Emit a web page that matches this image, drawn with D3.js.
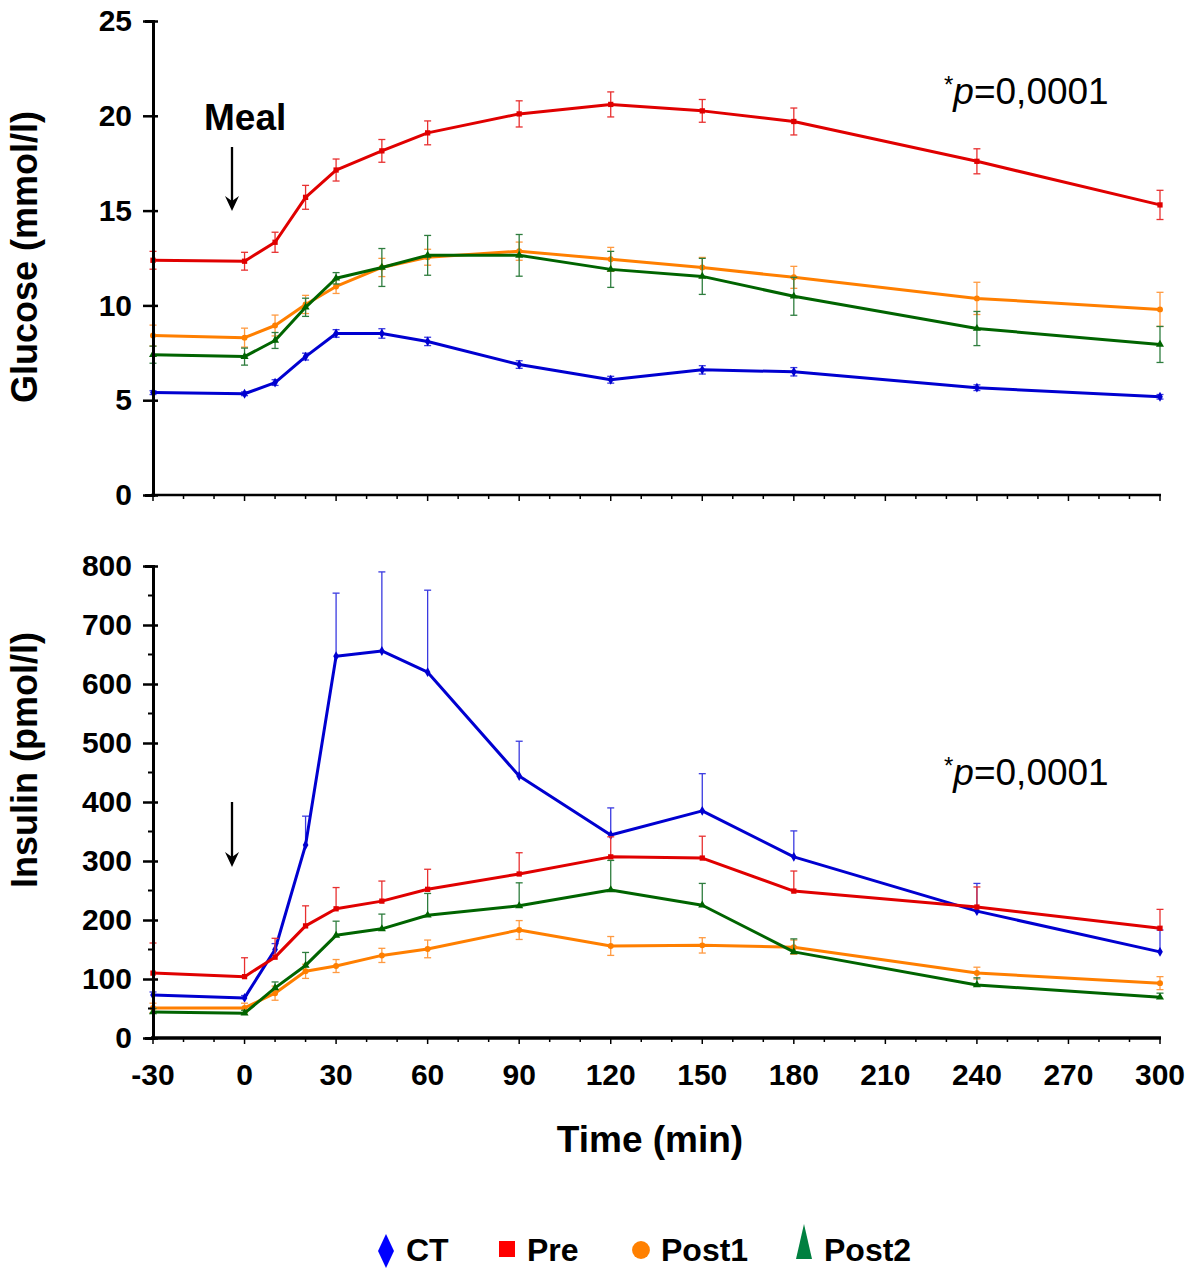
<!DOCTYPE html>
<html>
<head>
<meta charset="utf-8">
<script src="https://cdn.jsdelivr.net/npm/d3@7"></script>
<style>
  body { margin: 0; background: #fff; }
  svg { font-family: "Liberation Sans", Arial, sans-serif; }
</style>
</head>
<body>
<div class="graph"></div>
<script>
// time points (min)
const times = [-30, 0, 10, 20, 30, 45, 60, 90, 120, 150, 180, 240, 300];
const groups = ['CT', 'Pre', 'Post1', 'Post2'];

// glucose (mmol/l) means and SE
const gluCT    = [5.4, 5.34, 5.93, 7.3, 8.52, 8.52, 8.1, 6.88, 6.08, 6.6, 6.5, 5.66, 5.18];
const gluPre   = [12.38, 12.33, 13.33, 15.7, 17.14, 18.15, 19.1, 20.1, 20.6, 20.26, 19.7, 17.6, 15.3];
const gluPost1 = [8.41, 8.3, 8.94, 10.05, 11.0, 12.0, 12.54, 12.86, 12.43, 12.0, 11.48, 10.37, 9.79];
const gluPost2 = [7.4, 7.3, 8.15, 9.9, 11.43, 12.0, 12.64, 12.64, 11.9, 11.53, 10.48, 8.78, 7.94];
const gluErrCT    = [0.1, 0.1, 0.15, 0.18, 0.2, 0.25, 0.22, 0.2, 0.18, 0.22, 0.22, 0.15, 0.12];
const gluErrPre   = [0.47, 0.47, 0.53, 0.63, 0.58, 0.6, 0.63, 0.69, 0.66, 0.6, 0.71, 0.66, 0.77];
const gluErrPost1 = [0.55, 0.5, 0.55, 0.48, 0.37, 0.48, 0.42, 0.48, 0.63, 0.53, 0.58, 0.85, 0.9];
const gluErrPost2 = [0.45, 0.45, 0.42, 0.48, 0.3, 1.0, 1.05, 1.1, 0.95, 0.95, 1.0, 0.9, 0.95];

// insulin (pmol/l) means and SE
const insCT    = [73, 68, 150, 327, 647, 656, 620, 444, 344, 385, 307, 215, 146];
const insPre   = [110, 104, 137, 190, 219, 232, 252, 278, 307, 305, 249, 222, 186];
const insPost1 = [51, 51, 76, 113, 122, 140, 151, 183, 156, 157, 154, 110, 93];
const insPost2 = [44, 42, 85, 123, 174, 185, 208, 224, 251, 225, 146, 90, 69];
const insErrCT    = [5, 4, 10, 49, 107, 134, 139, 59, 46, 63, 44, 47, 37];
const insErrPre   = [51, 32, 32, 34, 36, 34, 34, 36, 34, 37, 34, 34, 32];
const insErrPost1 = [8, 8, 12, 12, 11, 12, 15, 16, 16, 13, 12, 10, 11];
const insErrPost2 = [6, 5, 10, 22, 24, 25, 37, 39, 50, 37, 22, 12, 7];

const xTicks = [-30, 0, 30, 60, 90, 120, 150, 180, 210, 240, 270, 300];
const gluTicks = [0, 5, 10, 15, 20, 25];
const insTicks = [0, 100, 200, 300, 400, 500, 600, 700, 800];

const lineColors = ['#0000d0', '#e00000', '#ff7f00', '#006400'];
const errColors  = ['#3a3ae0', '#e83030', '#ff9a40', '#2e7d3e'];
const legendColors = ['#0000ff', '#ff0000', '#ff8000', '#008040'];
const shapes = [d3.symbolDiamond, d3.symbolSquare, d3.symbolCircle, d3.symbolTriangle];

const svg = d3.select('.graph').append('svg').attr('width', 1201).attr('height', 1268);

const xScale = d3.scaleLinear().domain([-30, 300]).range([153, 1160]);

const drawPanel = (cfg) => {
    const y = d3.scaleLinear().domain(cfg.domain).range(cfg.range);
    const g = svg.append('g');

    // series
    cfg.series.forEach((vals, i) => {
        const errs = cfg.errors[i];
        const both = cfg.bothSides[i];
        const eb = g.append('g').attr('stroke', errColors[i]).attr('stroke-width', 1.3);
        times.forEach((t, j) => {
            const x = xScale(t);
            const top = y(vals[j] + errs[j]);
            const bot = both ? y(vals[j] - errs[j]) : y(vals[j]);
            eb.append('line').attr('x1', x).attr('x2', x).attr('y1', top).attr('y2', bot);
            eb.append('line').attr('x1', x - 3.5).attr('x2', x + 3.5).attr('y1', top).attr('y2', top);
            if (both) eb.append('line').attr('x1', x - 3.5).attr('x2', x + 3.5).attr('y1', bot).attr('y2', bot);
        });
        const line = d3.line().x((d, j) => xScale(times[j])).y(d => y(d));
        g.append('path').datum(vals).attr('d', line)
            .attr('fill', 'none').attr('stroke', lineColors[i]).attr('stroke-width', 3)
            .attr('stroke-linejoin', 'round');
        g.append('g').selectAll('path').data(vals).join('path')
            .attr('transform', (d, j) => `translate(${xScale(times[j])},${y(d)})`)
            .attr('d', d3.symbol().type(shapes[i]).size(28))
            .attr('fill', lineColors[i]);
    });

    // y axis
    const yAxis = d3.axisLeft(y).tickValues(cfg.ticks).tickSize(8).tickSizeInner(0).tickPadding(21);
    const ya = g.append('g').attr('transform', `translate(153,0)`).call(yAxis);
    ya.select('.domain').attr('stroke', '#000').attr('stroke-width', 3);
    ya.selectAll('text').attr('font-size', 30).attr('font-weight', 'bold').attr('fill', '#000');
    ya.selectAll('.tick').append('line').attr('x1', -10).attr('x2', 5).attr('stroke', '#000').attr('stroke-width', 2.5);
    if (cfg.minor) {
        ya.selectAll('.minor').data(cfg.minor).join('line').attr('class', 'minor')
            .attr('x1', -5).attr('x2', 0).attr('y1', d => y(d)).attr('y2', d => y(d))
            .attr('stroke', '#000').attr('stroke-width', 2);
    }

    // x axis
    const y0 = y(0);
    g.append('line').attr('x1', 151).attr('x2', 1161).attr('y1', y0).attr('y2', y0)
        .attr('stroke', '#000').attr('stroke-width', cfg.xw);
    const minorX = d3.range(-30, 301, 10);
    g.append('g').selectAll('line').data(minorX).join('line')
        .attr('x1', d => xScale(d)).attr('x2', d => xScale(d))
        .attr('y1', y0).attr('y2', d => y0 + (d % 30 === 0 ? 6 : 4))
        .attr('stroke', '#000').attr('stroke-width', 1.5);
    if (cfg.xLabels) {
        g.append('g').selectAll('text').data(xTicks).join('text')
            .attr('x', d => xScale(d)).attr('y', y0 + 47)
            .attr('text-anchor', 'middle').attr('font-size', 30).attr('font-weight', 'bold')
            .text(d => d);
    }

    // y label
    g.append('text').attr('transform', `translate(37,${cfg.labelY}) rotate(-90)`)
        .attr('text-anchor', 'middle').attr('font-size', 36).attr('font-weight', 'bold')
        .text(cfg.label);

    // p value
    const pt = g.append('text').attr('x', 944).attr('y', cfg.pY).attr('font-size', 37);
    pt.append('tspan').attr('font-size', 24).attr('dy', -11).text('*');
    pt.append('tspan').attr('font-style', 'italic').attr('dy', 11).text('p');
    pt.append('tspan').text('=0,0001');

    // meal arrow
    const ax = 232;
    g.append('line').attr('x1', ax).attr('x2', ax).attr('y1', cfg.arrow[0]).attr('y2', cfg.arrow[1] - 10)
        .attr('stroke', '#000').attr('stroke-width', 2.3);
    g.append('path')
        .attr('d', `M${ax - 7},${cfg.arrow[1] - 15} L${ax},${cfg.arrow[1]} L${ax + 7},${cfg.arrow[1] - 15} L${ax},${cfg.arrow[1] - 10} Z`)
        .attr('fill', '#000');
    return y;
};

drawPanel({
    domain: [0, 25], range: [495, 21], ticks: gluTicks, xw: 2.5, xLabels: false,
    series: [gluCT, gluPre, gluPost1, gluPost2],
    errors: [gluErrCT, gluErrPre, gluErrPost1, gluErrPost2],
    bothSides: [true, true, true, true],
    label: 'Glucose (mmol/l)', labelY: 257, pY: 104, arrow: [147, 211]
});

drawPanel({
    domain: [0, 800], range: [1038, 566], ticks: insTicks, xw: 3.5, xLabels: true,
    minor: d3.range(50, 800, 100),
    series: [insCT, insPre, insPost1, insPost2],
    errors: [insErrCT, insErrPre, insErrPost1, insErrPost2],
    bothSides: [false, false, true, false],
    label: 'Insulin (pmol/l)', labelY: 760, pY: 785, arrow: [802, 867]
});

svg.append('text').attr('x', 650).attr('y', 1152).attr('text-anchor', 'middle')
    .attr('font-size', 37).attr('font-weight', 'bold').text('Time (min)');

// meal label
svg.append('text').attr('x', 204).attr('y', 130).attr('font-size', 37).attr('font-weight', 'bold').text('Meal');

// legend
const legX = [386, 507, 641, 804];
const leg = svg.append('g');
groups.forEach((name, i) => {
    const cx = legX[i];
    let d;
    if (i === 0) d = `M${cx},1234 L${cx + 8},1251 L${cx},1268 L${cx - 8},1251 Z`;
    else if (i === 1) d = `M${cx - 8},1241 h16 v16 h-16 Z`;
    else if (i === 2) d = d3.symbol().type(d3.symbolCircle).size(250)();
    else d = `M${cx},1224 L${cx + 8},1259 L${cx - 8},1259 Z`;
    const p = leg.append('path').attr('d', d).attr('fill', legendColors[i]);
    if (i === 2) p.attr('transform', `translate(${cx},1250)`);
    leg.append('text').attr('x', cx + 20).attr('y', 1261).attr('font-size', 32).attr('font-weight', 'bold').text(name);
});
</script>
</body>
</html>
